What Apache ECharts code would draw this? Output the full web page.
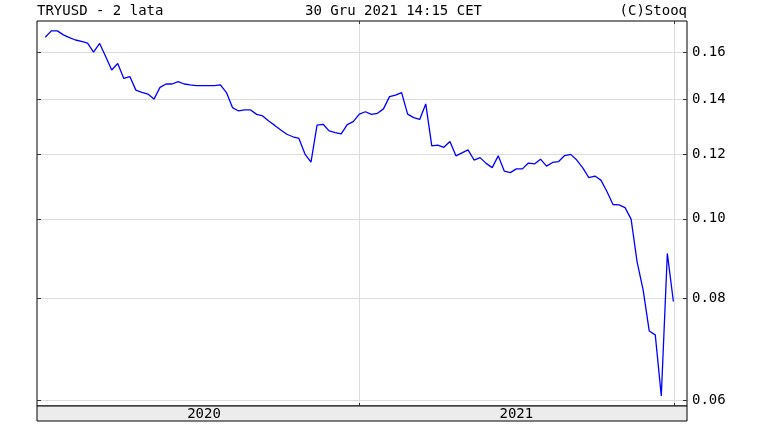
<!DOCTYPE html>
<html>
<head>
<meta charset="utf-8">
<script src="https://cdn.jsdelivr.net/npm/echarts@6/dist/echarts.min.js"></script>
<style>
    html, body { margin: 0; padding: 0; background: #fff; }
    #chart { width: 759px; height: 424px; }
</style>
</head>
<body>
<div id="chart"></div>
<script>
// weekly closes, TRY/USD, Jan 2020 - Dec 2021
var dates = [
    '2020-01-03', '2020-01-10', '2020-01-17', '2020-01-24', '2020-01-31',
    '2020-02-07', '2020-02-14', '2020-02-21', '2020-02-28',
    '2020-03-06', '2020-03-13', '2020-03-20', '2020-03-27',
    '2020-04-03', '2020-04-10', '2020-04-17', '2020-04-24',
    '2020-05-01', '2020-05-08', '2020-05-15', '2020-05-22', '2020-05-29',
    '2020-06-05', '2020-06-12', '2020-06-19', '2020-06-26',
    '2020-07-03', '2020-07-10', '2020-07-17', '2020-07-24', '2020-07-31',
    '2020-08-07', '2020-08-14', '2020-08-21', '2020-08-28',
    '2020-09-04', '2020-09-11', '2020-09-18', '2020-09-25',
    '2020-10-02', '2020-10-09', '2020-10-16', '2020-10-23', '2020-10-30',
    '2020-11-06', '2020-11-13', '2020-11-20', '2020-11-27',
    '2020-12-04', '2020-12-11', '2020-12-18', '2020-12-25',
    '2021-01-01', '2021-01-08', '2021-01-15', '2021-01-22', '2021-01-29',
    '2021-02-05', '2021-02-12', '2021-02-19', '2021-02-26',
    '2021-03-05', '2021-03-12', '2021-03-19', '2021-03-26',
    '2021-04-02', '2021-04-09', '2021-04-16', '2021-04-23', '2021-04-30',
    '2021-05-07', '2021-05-14', '2021-05-21', '2021-05-28',
    '2021-06-04', '2021-06-11', '2021-06-18', '2021-06-25',
    '2021-07-02', '2021-07-09', '2021-07-16', '2021-07-23', '2021-07-30',
    '2021-08-06', '2021-08-13', '2021-08-20', '2021-08-27',
    '2021-09-03', '2021-09-10', '2021-09-17', '2021-09-24',
    '2021-10-01', '2021-10-08', '2021-10-15', '2021-10-22', '2021-10-29',
    '2021-11-05', '2021-11-12', '2021-11-19', '2021-11-26',
    '2021-12-03', '2021-12-10', '2021-12-17', '2021-12-24', '2021-12-31'
];

var closes = [
    0.1668, 0.1698, 0.1698, 0.1679, 0.1666,
    0.1655, 0.1649, 0.1640, 0.1599,
    0.1639, 0.1580, 0.1521, 0.1549,
    0.1485, 0.1493, 0.1437, 0.1428,
    0.1421, 0.1401, 0.1448, 0.1462, 0.1462,
    0.1472, 0.1462, 0.1458, 0.1455,
    0.1455, 0.1455, 0.1455, 0.1458, 0.1427,
    0.1368, 0.1355, 0.1359, 0.1359,
    0.1342, 0.1336, 0.1317, 0.1301,
    0.1284, 0.1269, 0.1260, 0.1254, 0.1200,
    0.1173, 0.1302, 0.1305, 0.1281,
    0.1275, 0.1270, 0.1304, 0.1315,
    0.1343, 0.1352, 0.1342, 0.1346, 0.1363,
    0.1411, 0.1417, 0.1427, 0.1343,
    0.1330, 0.1323, 0.1382, 0.1228,
    0.1231, 0.1223, 0.1243, 0.1194, 0.1204,
    0.1214, 0.1180, 0.1188, 0.1169,
    0.1155, 0.1194, 0.1144, 0.1139,
    0.1151, 0.1151, 0.1170, 0.1167, 0.1183,
    0.1160, 0.1172, 0.1175, 0.1195,
    0.1199, 0.1180, 0.1154, 0.1123,
    0.1128, 0.1115, 0.1080, 0.1041, 0.1040,
    0.1032, 0.0999, 0.0885, 0.0818,
    0.0729, 0.0721, 0.0607, 0.0907, 0.0792
];

var priceTicks = [0.06, 0.08, 0.10, 0.12, 0.14, 0.16];
var yearLines = ['2021-01-01', '2022-01-01'];
var yearLabels = ['2020-07-05', '2021-07-02'];

var dateMin = '2019-12-24T10:00:00Z';
var dateMax = '2022-01-15T19:00:00Z';
var priceMin = 0.059;
var priceMax = 0.1746;

var FONT = 'DejaVu Sans Mono';

function ts(d) {
    return Date.parse(d);
}

function getOption() {
    var points = dates.map(function (d, i) {
        return [ts(d), closes[i]];
    });

    var textStyle = {
        fontFamily: FONT,
        fontSize: 14,
        fontWeight: 'normal',
        color: '#000',
        lineHeight: 14
    };

    var dateAxis = function (grid, pos) {
        return {
            gridIndex: grid,
            type: 'value',
            position: pos,
            min: ts(dateMin),
            max: ts(dateMax),
            axisLine: { show: false },
            axisTick: { show: false },
            axisLabel: { show: false },
            splitLine: { show: false }
        };
    };

    var bottomAxis = dateAxis(0, 'bottom');
    bottomAxis.axisTick = {
        show: true, inside: true, length: 3,
        customValues: yearLines.map(ts),
        lineStyle: { color: '#333' }
    };
    bottomAxis.splitLine = { show: true, lineStyle: { color: '#dcdcdc', width: 1 } };

    var topAxis = dateAxis(0, 'top');
    topAxis.axisTick = {
        show: true, inside: true, length: 3,
        customValues: yearLines.map(ts),
        lineStyle: { color: '#333' }
    };

    // year names sit inside the grey band under the plot
    var bandAxis = dateAxis(1, 'top');
    bandAxis.axisLabel = {
        show: true,
        inside: true,
        customValues: yearLabels.map(ts),
        margin: 1,
        fontFamily: FONT,
        fontSize: 14,
        color: '#000',
        formatter: function (v) {
            return String(new Date(v).getUTCFullYear());
        }
    };

    var option = {
        animation: false,
        backgroundColor: '#fff',
        title: [
            { text: 'TRYUSD - 2 lata', left: 37, top: 4, padding: 0, textStyle: textStyle },
            { text: '30 Gru 2021 14:15 CET', left: 305, top: 4, padding: 0, textStyle: textStyle },
            { text: '(C)Stooq', right: 72, top: 4, padding: 0, textStyle: textStyle }
        ],
        grid: [
            {
                left: 37, right: 72, top: 21, bottom: 18,
                show: true,
                backgroundColor: '#fff',
                borderColor: '#000',
                borderWidth: 1
            },
            {
                left: 37, right: 72, top: 406, height: 15,
                show: true,
                backgroundColor: '#ececec',
                borderColor: '#000',
                borderWidth: 1
            }
        ],
        xAxis: [bottomAxis, topAxis, bandAxis],
        yAxis: [
            {
                gridIndex: 0,
                type: 'log',
                position: 'left',
                min: priceMin,
                max: priceMax,
                axisLine: { show: false },
                axisTick: {
                    show: true,
                    inside: true,
                    length: 4,
                    customValues: priceTicks,
                    lineStyle: { color: '#333' }
                },
                axisLabel: { show: false },
                splitLine: { show: false }
            },
            {
                gridIndex: 0,
                type: 'log',
                position: 'right',
                min: priceMin,
                max: priceMax,
                axisLine: { show: false },
                axisTick: {
                    show: true,
                    inside: true,
                    length: 4,
                    customValues: priceTicks,
                    lineStyle: { color: '#333' }
                },
                axisLabel: {
                    customValues: priceTicks,
                    margin: 5,
                    fontFamily: FONT,
                    fontSize: 14,
                    color: '#000',
                    formatter: function (v) {
                        return Number(v).toFixed(2);
                    }
                },
                splitLine: { show: true, lineStyle: { color: '#dcdcdc', width: 1 } }
            },
            {
                gridIndex: 1,
                type: 'value',
                show: false
            }
        ],
        series: [
            {
                name: 'TRYUSD',
                type: 'line',
                xAxisIndex: 0,
                yAxisIndex: 1,
                showSymbol: false,
                lineStyle: { color: '#0000ff', width: 1.3 },
                itemStyle: { color: '#0000ff' },
                data: points
            }
        ]
    };
    return option;
}

var myChart = echarts.init(document.getElementById('chart'));
myChart.setOption(getOption());
</script>
</body>
</html>
